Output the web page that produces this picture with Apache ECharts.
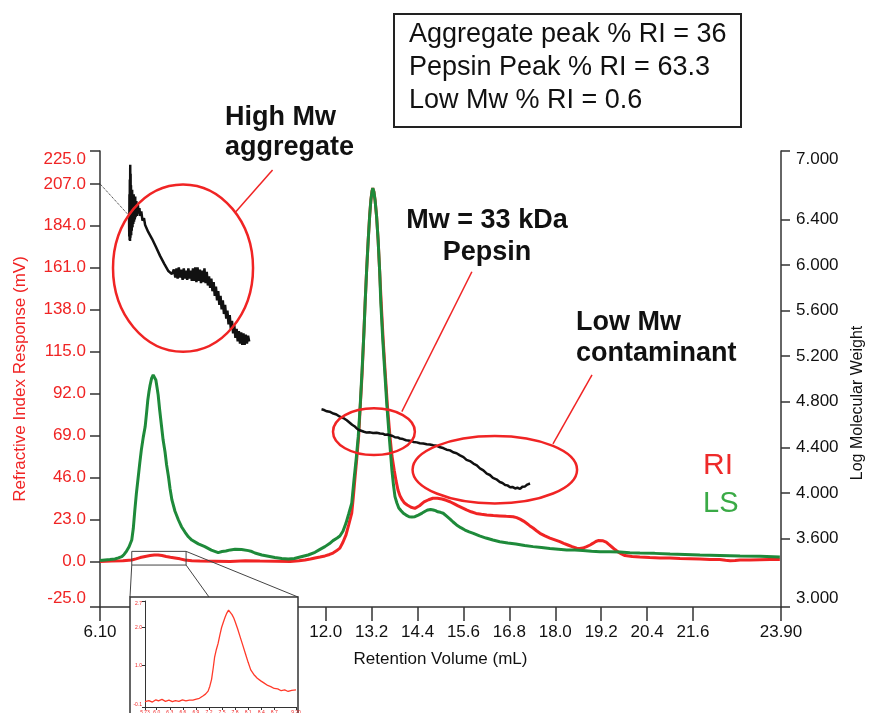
<!DOCTYPE html>
<html><head><meta charset="utf-8">
<script src="https://cdn.jsdelivr.net/npm/echarts@6/dist/echarts.min.js"></script>
<style>html,body{margin:0;padding:0;background:#fff}#c{width:870px;height:713px}</style>
</head><body><div id="c"></div>
<script>
const FONT = "'Liberation Sans', Arial, sans-serif";
const RED = '#f02424';
const GREEN = '#1e8a3a';

// ---- tick values / labels ----
const xTickValues = [6.1, 7.2, 8.4, 9.6, 10.8, 12.0, 13.2, 14.4, 15.6, 16.8, 18.0, 19.2, 20.4, 21.6, 23.9];
const xTickLabels = ['6.10', '7.2', '8.4', '9.6', '10.8', '12.0', '13.2', '14.4', '15.6', '16.8', '18.0', '19.2', '20.4', '21.6', '23.90'];
const riTickValues = [-25, 0, 23, 46, 69, 92, 115, 138, 161, 184, 207, 225];
const mwTickValues = [3.0, 3.6, 4.0, 4.4, 4.8, 5.2, 5.6, 6.0, 6.4, 7.0];
const insetXTickValues = [5.73, 6.0, 6.3, 6.6, 6.9, 7.2, 7.5, 7.8, 8.1, 8.4, 8.7, 9.2];
const insetXTickLabels = ['5.73', '6.0', '6.3', '6.6', '6.9', '7.2', '7.5', '7.8', '8.1', '8.4', '8.7', '9.20'];
const insetYTickValues = [-0.1, 1.0, 2.0, 2.7];

// ---- RI trace (mL, mV) ----
const riTrace = [[6.10,0.0],[6.40,0.2],[6.70,0.3],[6.93,0.8],[7.04,1.4],[7.15,2.1],[7.28,2.7],[7.41,3.2],[7.52,3.5],[7.62,3.5],[7.72,3.2],[7.83,2.7],[7.94,2.3],[8.06,1.9],[8.19,1.4],[8.32,0.8],[8.50,0.4],[8.71,0.2],[9.10,0.1],[9.50,0.0],[9.90,0.3],[10.28,0.2],[10.70,0.1],[11.07,0.0],[11.30,0.4],[11.46,0.8],[11.60,1.3],[11.72,1.9],[11.85,2.4],[11.98,3.0],[12.10,3.8],[12.19,4.6],[12.28,5.8],[12.37,7.3],[12.45,10.5],[12.53,14.5],[12.60,20],[12.68,26.5],[12.72,35],[12.76,44.6],[12.81,56],[12.86,68.4],[12.90,84],[12.95,102.5],[12.99,122],[13.03,141.7],[13.07,160],[13.11,176],[13.15,190],[13.18,198],[13.21,203],[13.23,204.6],[13.26,202.5],[13.29,198],[13.33,189],[13.37,176],[13.41,159],[13.45,141.7],[13.50,122],[13.55,105],[13.61,86],[13.68,68.4],[13.73,58],[13.79,50],[13.84,44],[13.89,39],[13.94,36],[14.00,33.7],[14.06,32],[14.13,30.9],[14.23,29.7],[14.33,29.1],[14.45,30.5],[14.57,32.6],[14.69,33.8],[14.80,34.6],[14.92,34.6],[15.04,34.2],[15.15,33.5],[15.25,32.7],[15.36,31.5],[15.46,30.4],[15.57,29.3],[15.68,28.2],[15.80,27.2],[15.93,26.3],[16.07,25.8],[16.21,25.4],[16.38,25.1],[16.55,24.9],[16.72,24.7],[16.90,24.5],[16.99,24.0],[17.08,23.2],[17.17,22.1],[17.25,20.9],[17.33,19.6],[17.42,18.3],[17.51,16.8],[17.60,15.4],[17.73,14.0],[17.86,12.8],[17.99,11.8],[18.12,10.8],[18.22,9.9],[18.33,9.0],[18.44,8.1],[18.56,7.2],[18.64,7.1],[18.72,7.3],[18.82,8.1],[18.91,9.0],[18.99,10.0],[19.06,10.9],[19.12,11.4],[19.17,11.7],[19.25,11.3],[19.33,10.6],[19.40,9.3],[19.48,7.9],[19.56,6.5],[19.64,5.2],[19.73,4.1],[19.82,3.2],[20.01,2.7],[20.21,2.4],[20.47,2.1],[20.74,1.9],[21.00,1.8],[21.26,1.6],[21.52,1.5],[21.78,1.3],[22.04,1.1],[22.30,1.0],[22.45,0.6],[22.57,0.4],[22.70,0.5],[22.83,0.8],[23.09,0.8],[23.35,0.9],[23.61,1.0],[23.87,1.0]];

// ---- LS trace (mL, mV) ----
const lsTrace = [[6.10,0.5],[6.23,0.8],[6.36,1.0],[6.49,1.3],[6.58,1.9],[6.67,2.6],[6.73,3.8],[6.78,5.2],[6.86,8.0],[6.93,11.7],[6.97,18],[7.01,28],[7.05,37],[7.10,46.4],[7.14,54],[7.18,61],[7.23,68],[7.28,73.8],[7.32,82],[7.35,88.5],[7.38,93],[7.41,96.7],[7.45,100.5],[7.49,102.2],[7.53,101.5],[7.56,99.5],[7.59,95.5],[7.62,91.3],[7.66,83],[7.71,73.8],[7.75,66.5],[7.80,60],[7.84,53],[7.89,46.4],[7.93,40],[7.98,33.7],[8.06,27.5],[8.15,22.7],[8.23,19],[8.32,16.1],[8.41,13.5],[8.50,11.7],[8.67,9.6],[8.84,8.1],[9.01,6.2],[9.19,4.8],[9.29,5.4],[9.39,5.7],[9.51,6.3],[9.63,6.6],[9.80,6.5],[9.98,5.9],[10.07,5.4],[10.15,4.6],[10.33,3.5],[10.50,2.8],[10.67,2.1],[10.85,1.6],[11.02,1.3],[11.18,1.6],[11.33,2.4],[11.54,3.5],[11.72,5.0],[11.85,6.6],[11.98,8.1],[12.10,9.8],[12.19,11.4],[12.30,12.8],[12.37,13.9],[12.45,16.5],[12.53,21],[12.60,26],[12.68,32],[12.74,45],[12.80,57],[12.85,68.4],[12.90,85],[12.95,104.9],[13.00,126],[13.03,141.7],[13.07,160],[13.11,176],[13.15,190],[13.18,198],[13.21,203],[13.23,204.6],[13.26,202.5],[13.29,198],[13.33,189],[13.37,176],[13.41,159],[13.44,141.7],[13.49,122],[13.54,105],[13.60,85],[13.66,68.4],[13.70,58],[13.73,50],[13.77,42],[13.81,35.5],[13.86,32],[13.91,29.3],[13.97,27.8],[14.03,26.4],[14.10,25.4],[14.18,24.5],[14.25,24.3],[14.33,24.5],[14.42,25.4],[14.52,26.5],[14.60,27.5],[14.67,28.2],[14.74,28.5],[14.81,28.2],[14.87,27.8],[14.93,27.2],[15.00,26.9],[15.07,26.4],[15.16,24.8],[15.25,23.2],[15.33,21.6],[15.42,20.0],[15.53,18.5],[15.64,17.2],[15.75,16.2],[15.86,15.4],[16.02,14.0],[16.19,12.8],[16.37,11.7],[16.55,10.8],[16.76,10.1],[16.97,9.5],[17.20,8.7],[17.42,8.1],[17.64,7.6],[17.86,7.1],[18.08,6.7],[18.30,6.3],[18.51,6.2],[18.72,6.0],[18.95,5.6],[19.17,5.3],[19.43,5.3],[19.69,5.2],[19.95,4.8],[20.21,4.6],[20.60,4.4],[21.00,4.0],[21.39,3.8],[21.78,3.5],[22.30,3.3],[22.83,3.0],[23.35,2.8],[23.87,2.4]];

// ---- Log Mw traces (mL, log Mw) ----
const mwAggregate = [[6.860,6.40],[6.865,6.25],[6.870,6.62],[6.875,6.22],[6.880,6.75],[6.885,6.21],[6.890,6.88],[6.895,6.24],[6.900,6.80],[6.905,6.28],[6.910,6.70],[6.915,6.26],[6.920,6.64],[6.930,6.30],[6.940,6.66],[6.950,6.33],[6.960,6.60],[6.970,6.36],[6.980,6.62],[6.990,6.38],[7.00,6.58],[7.01,6.40],[7.02,6.60],[7.03,6.42],[7.05,6.56],[7.07,6.43],[7.09,6.53],[7.11,6.45],[7.13,6.50],[7.15,6.43],[7.18,6.47],[7.21,6.39],[7.25,6.41],[7.28,6.35],[7.32,6.36],[7.36,6.29],[7.41,6.30],[7.46,6.23],[7.51,6.23],[7.56,6.16],[7.61,6.15],[7.67,6.08],[7.72,6.08],[7.78,6.01],[7.83,6.00],[7.88,5.95],[7.93,5.95],[7.98,5.92],[8.03,5.96],[8.07,5.89],[8.10,5.97],[8.13,5.88],[8.16,5.98],[8.19,5.89],[8.22,5.96],[8.26,5.87],[8.29,5.97],[8.32,5.88],[8.35,5.95],[8.38,5.87],[8.41,5.97],[8.44,5.88],[8.47,5.95],[8.50,5.86],[8.53,5.97],[8.56,5.86],[8.59,5.98],[8.62,5.85],[8.65,5.98],[8.68,5.86],[8.71,5.96],[8.74,5.84],[8.77,5.95],[8.80,5.85],[8.83,5.97],[8.86,5.84],[8.89,5.94],[8.92,5.82],[8.95,5.90],[8.98,5.80],[9.01,5.88],[9.04,5.77],[9.07,5.85],[9.10,5.73],[9.13,5.81],[9.16,5.69],[9.19,5.77],[9.22,5.65],[9.25,5.73],[9.28,5.61],[9.31,5.69],[9.34,5.57],[9.37,5.65],[9.40,5.53],[9.43,5.60],[9.46,5.48],[9.49,5.56],[9.52,5.44],[9.55,5.51],[9.58,5.40],[9.61,5.47],[9.64,5.36],[9.67,5.44],[9.70,5.33],[9.73,5.42],[9.76,5.31],[9.79,5.41],[9.82,5.30],[9.85,5.40],[9.88,5.30],[9.91,5.39],[9.94,5.31],[9.97,5.38],[10.00,5.33]];
const mwPepsin = [[11.89,4.734],[11.96,4.728],[12.03,4.717],[12.10,4.713],[12.20,4.697],[12.28,4.689],[12.37,4.669],[12.46,4.658],[12.55,4.638],[12.62,4.619],[12.69,4.599],[12.75,4.586],[12.81,4.566],[12.87,4.553],[12.92,4.542],[13.00,4.537],[13.07,4.530],[13.16,4.532],[13.24,4.526],[13.33,4.529],[13.42,4.522],[13.49,4.520],[13.55,4.511],[13.62,4.513],[13.68,4.506],[13.75,4.500],[13.81,4.489],[13.88,4.487],[13.94,4.478],[14.02,4.473],[14.10,4.463],[14.20,4.459],[14.29,4.448],[14.38,4.444],[14.46,4.437],[14.55,4.435],[14.64,4.428],[14.72,4.426],[14.81,4.419],[14.90,4.414],[14.99,4.401],[15.07,4.394],[15.16,4.380],[15.25,4.374],[15.33,4.357],[15.42,4.349],[15.51,4.330],[15.60,4.315],[15.68,4.291],[15.77,4.280],[15.86,4.258],[15.95,4.243],[16.03,4.216],[16.12,4.199],[16.21,4.170],[16.29,4.158],[16.37,4.132],[16.46,4.120],[16.55,4.096],[16.62,4.088],[16.69,4.071],[16.75,4.067],[16.82,4.051],[16.88,4.053],[16.95,4.040],[17.01,4.046],[17.08,4.036],[17.14,4.055],[17.21,4.058],[17.27,4.074],[17.34,4.083]];
const mwConnector = [[6.10,207],[6.84,190]];

// ---- inset RI trace ----
const insetRi = [[5.73,0.04],[5.82,0.07],[5.90,0.03],[5.98,0.09],[6.04,0.06],[6.12,0.10],[6.20,0.05],[6.28,0.08],[6.36,0.04],[6.43,0.07],[6.51,0.05],[6.59,0.09],[6.67,0.06],[6.75,0.08],[6.83,0.08],[6.91,0.11],[6.98,0.13],[7.06,0.19],[7.12,0.24],[7.18,0.32],[7.22,0.45],[7.26,0.63],[7.30,0.95],[7.33,1.22],[7.37,1.42],[7.41,1.58],[7.45,1.80],[7.49,2.00],[7.53,2.14],[7.57,2.27],[7.61,2.38],[7.65,2.46],[7.69,2.41],[7.73,2.34],[7.77,2.25],[7.80,2.16],[7.86,1.96],[7.92,1.74],[7.98,1.52],[8.04,1.30],[8.10,1.08],[8.16,0.88],[8.23,0.76],[8.31,0.66],[8.39,0.59],[8.47,0.53],[8.55,0.47],[8.62,0.44],[8.70,0.39],[8.78,0.38],[8.86,0.33],[8.94,0.35],[9.02,0.31],[9.10,0.34],[9.20,0.35]];

// ---- annotation anchors in data units (mL, mV) ----
const ellipses = [
  {cx: 8.27, cy: 160.8, rx: 1.83, ry: 45.9},
  {cx: 13.26, cy: 71.1, rx: 1.07, ry: 12.8},
  {cx: 16.42, cy: 50.3, rx: 2.15, ry: 18.5}
];
const leaders = [
  [[9.65, 191.7], [10.61, 214.6]],
  [[13.99, 82.1], [15.82, 158.8]],
  [[17.94, 64.4], [18.96, 102.2]]
];
const zoomRect = [[6.93, 5.5], [8.35, -2.0]];

const lookup = (vals, labs) => v => { const i = vals.findIndex(t => Math.abs(t - v) < 1e-6); return i >= 0 ? labs[i] : ''; };
const axisLineStyle = {color: '#333', width: 1.5};

const chart = echarts.init(document.getElementById('c'), null, {renderer: 'canvas'});
const option = {
  animation: false,
  backgroundColor: '#fff',
  textStyle: {fontFamily: FONT},
  grid: [
    {left: 100, right: 89, top: 151, bottom: 106, containLabel: false, outerBoundsMode: 'none'},
    {left: 145, top: 601, width: 151, height: 106, containLabel: false, outerBoundsMode: 'none'}
  ],
  xAxis: [
    {type: 'value', gridIndex: 0, min: 6.1, max: 23.9,
     axisLine: {show: true, onZero: false, lineStyle: axisLineStyle},
     axisTick: {show: true, length: 14, customValues: xTickValues, lineStyle: axisLineStyle},
     axisLabel: {customValues: xTickValues, formatter: lookup(xTickValues, xTickLabels), margin: 17, fontSize: 17, color: '#111', fontFamily: FONT},
     splitLine: {show: false},
     name: 'Retention Volume (mL)', nameLocation: 'middle', nameGap: 44,
     nameTextStyle: {fontSize: 17, color: '#111', fontFamily: FONT}},
    {type: 'value', gridIndex: 1, min: 5.73, max: 9.2, z: 101,
     axisLine: {show: true, onZero: false, lineStyle: {color: '#333', width: 1}},
     axisTick: {show: true, length: 3, customValues: insetXTickValues, lineStyle: {color: '#333', width: 1}},
     axisLabel: {customValues: insetXTickValues, formatter: lookup(insetXTickValues, insetXTickLabels), margin: 3, fontSize: 5, color: RED, fontFamily: FONT},
     splitLine: {show: false}}
  ],
  yAxis: [
    {type: 'value', gridIndex: 0, position: 'left', min: -25, max: 225,
     axisLine: {show: true, onZero: false, lineStyle: axisLineStyle},
     axisTick: {show: true, length: 10, customValues: riTickValues, lineStyle: axisLineStyle},
     axisLabel: {customValues: riTickValues, formatter: v => v.toFixed(1), margin: 14, fontSize: 17, color: RED, fontFamily: FONT,
                 verticalAlignMaxLabel: 'top', verticalAlignMinLabel: 'bottom'},
     splitLine: {show: false},
     name: 'Refractive Index Response (mV)', nameLocation: 'middle', nameGap: 71, nameRotate: 90,
     nameTextStyle: {fontSize: 17, color: RED, fontFamily: FONT}},
    {type: 'value', gridIndex: 0, position: 'right', min: 3, max: 7,
     axisLine: {show: true, onZero: false, lineStyle: axisLineStyle},
     axisTick: {show: true, length: 9, customValues: mwTickValues, lineStyle: axisLineStyle},
     axisLabel: {customValues: mwTickValues, formatter: v => v.toFixed(3), margin: 15, fontSize: 17, color: '#111', fontFamily: FONT,
                 verticalAlignMaxLabel: 'top', verticalAlignMinLabel: 'bottom'},
     splitLine: {show: false},
     name: 'Log Molecular Weight', nameLocation: 'middle', nameGap: 68, nameRotate: 90,
     nameTextStyle: {fontSize: 16, color: '#111', fontFamily: FONT, padding: [0, 48, 0, 0]}},
    {type: 'value', gridIndex: 1, min: -0.1, max: 2.7, z: 101,
     axisLine: {show: true, onZero: false, lineStyle: {color: '#333', width: 1}},
     axisTick: {show: true, length: 3, customValues: insetYTickValues, lineStyle: {color: '#333', width: 1}},
     axisLabel: {customValues: insetYTickValues, formatter: v => v.toFixed(1), margin: 3, fontSize: 5, color: RED, fontFamily: FONT,
                 verticalAlignMaxLabel: 'top', verticalAlignMinLabel: 'bottom'},
     splitLine: {show: false}}
  ],
  series: [
    {name: 'RI', type: 'line', xAxisIndex: 0, yAxisIndex: 0, data: riTrace, showSymbol: false, z: 2,
     lineStyle: {color: RED, width: 3}, itemStyle: {color: RED}},
    {name: 'LS', type: 'line', xAxisIndex: 0, yAxisIndex: 0, data: lsTrace, showSymbol: false, z: 3,
     lineStyle: {color: GREEN, width: 3}, itemStyle: {color: GREEN}},
    {name: 'Mw aggregate', type: 'line', xAxisIndex: 0, yAxisIndex: 1, data: mwAggregate, showSymbol: false, z: 4,
     lineStyle: {color: '#111', width: 2.5}, itemStyle: {color: '#111'}},
    {name: 'Mw pepsin', type: 'line', xAxisIndex: 0, yAxisIndex: 1, data: mwPepsin, showSymbol: false, z: 4,
     lineStyle: {color: '#111', width: 2.5}, itemStyle: {color: '#111'}},
    {name: 'connector', type: 'line', xAxisIndex: 0, yAxisIndex: 0, data: mwConnector, showSymbol: false, z: 4,
     lineStyle: {color: '#222', width: 1, type: 'dotted'}},
    {name: 'RI inset', type: 'line', xAxisIndex: 1, yAxisIndex: 2, data: insetRi, showSymbol: false, z: 102,
     lineStyle: {color: '#ff3a2a', width: 1.3}, itemStyle: {color: '#ff3a2a'}}
  ]
};
chart.setOption(option);

const P = (x, y) => chart.convertToPixel({xAxisIndex: 0, yAxisIndex: 0}, [x, y]);
const g = [];
ellipses.forEach(a => {
  const c = P(a.cx, a.cy), e = P(a.cx + a.rx, a.cy + a.ry);
  g.push({type: 'ellipse', z: 20, shape: {cx: c[0], cy: c[1], rx: Math.abs(e[0] - c[0]), ry: Math.abs(e[1] - c[1])},
          style: {fill: 'none', stroke: RED, lineWidth: 2.5}});
});
leaders.forEach(l => {
  const a = P(l[0][0], l[0][1]), b = P(l[1][0], l[1][1]);
  g.push({type: 'line', z: 20, shape: {x1: a[0], y1: a[1], x2: b[0], y2: b[1]}, style: {stroke: RED, lineWidth: 1.5}});
});
const r0 = P(zoomRect[0][0], zoomRect[0][1]), r1 = P(zoomRect[1][0], zoomRect[1][1]);
g.push({type: 'rect', z: 20, shape: {x: r0[0], y: r0[1], width: r1[0] - r0[0], height: r1[1] - r0[1]}, style: {fill: 'none', stroke: '#444', lineWidth: 1}});
// inset frame (layout)
const inset = {x: 130, y: 597, w: 168, h: 130};
g.push({type: 'line', z: 20, shape: {x1: r0[0], y1: r1[1], x2: inset.x, y2: inset.y}, style: {stroke: '#444', lineWidth: 1}});
g.push({type: 'line', z: 20, shape: {x1: r1[0], y1: r0[1], x2: inset.x + inset.w, y2: inset.y}, style: {stroke: '#444', lineWidth: 1}});
g.push({type: 'line', z: 20, shape: {x1: r1[0], y1: r1[1], x2: 209, y2: inset.y}, style: {stroke: '#444', lineWidth: 1}});
g.push({type: 'rect', z: 100, shape: {x: inset.x, y: inset.y, width: inset.w, height: inset.h}, style: {fill: '#fff', stroke: '#333', lineWidth: 1.5}});
// summary box
g.push({type: 'rect', z: 30, shape: {x: 394, y: 14, width: 347, height: 113}, style: {fill: '#fff', stroke: '#222', lineWidth: 2}});
const txt = (x, y, text, size, weight, color, align) => ({type: 'text', z: 31, x: x, y: y,
  style: {text: text, fontSize: size, fontWeight: weight, fontFamily: FONT, fill: color,
          align: align || 'left', verticalAlign: 'middle', textAlign: align || 'left', textVerticalAlign: 'middle'}});
g.push(txt(409, 35, 'Aggregate peak % RI = 36', 27, 'normal', '#111'));
g.push(txt(409, 68, 'Pepsin Peak % RI = 63.3', 27, 'normal', '#111'));
g.push(txt(409, 101, 'Low Mw % RI = 0.6', 27, 'normal', '#111'));
g.push(txt(225, 118, 'High Mw', 27, 'bold', '#111'));
g.push(txt(225, 148, 'aggregate', 27, 'bold', '#111'));
g.push(txt(487, 221, 'Mw = 33 kDa', 27, 'bold', '#111', 'center'));
g.push(txt(487, 253, 'Pepsin', 27, 'bold', '#111', 'center'));
g.push(txt(576, 323, 'Low Mw', 27, 'bold', '#111'));
g.push(txt(576, 354, 'contaminant', 27, 'bold', '#111'));
g.push(txt(703, 466, 'RI', 30, 'normal', '#ee2a2a'));
g.push(txt(703, 504, 'LS', 29, 'normal', '#3aaa46'));
chart.setOption({graphic: g});
</script>
</body></html>
